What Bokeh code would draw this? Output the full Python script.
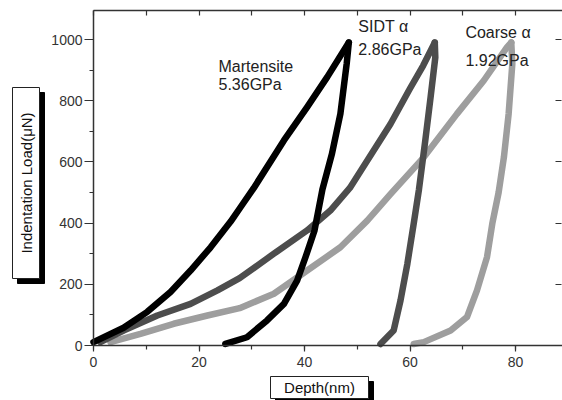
from bokeh.plotting import figure
from bokeh.models import Range1d, LinearAxis, SingleIntervalTicker, Label, CustomJSTickFormatter
from bokeh.embed import file_html
from bokeh.resources import INLINE
import math

# Martensite (5.36 GPa)
mart_load_depth = [0.0, 5.7, 10.2, 14.6, 18.4, 22.2, 26.0, 28.0, 30.4, 36.1, 40.5, 44.3, 48.4]
mart_load_force = [11, 58, 110, 175, 245, 321, 405, 455, 515, 670, 779, 877, 990]
mart_unload_depth = [48.4, 48.0, 46.8, 45.2, 43.4, 41.9, 40.2, 38.6, 36.1, 32.9, 29.1, 25.0]
mart_unload_force = [990, 921, 757, 626, 510, 376, 289, 212, 136, 82, 27, 5]

# SIDT alpha (2.86 GPa)
sidt_load_depth = [1.3, 5.7, 12.1, 18.4, 23.5, 27.7, 34.2, 40.5, 44.9, 48.6, 56.3, 60.0, 62.5, 64.7]
sidt_load_force = [11, 49, 98, 136, 180, 220, 300, 376, 441, 515, 724, 840, 915, 990]
sidt_unload_depth = [64.7, 64.8, 63.9, 62.9, 61.7, 60.7, 59.5, 58.2, 56.9, 54.4]
sidt_unload_force = [990, 942, 811, 670, 510, 398, 267, 147, 49, 5]

# Coarse alpha (1.92 GPa)
coarse_load_depth = [3.2, 8.9, 15.2, 21.6, 27.7, 34.2, 40.5, 46.8, 51.9, 56.3, 62.6, 68.9, 74.0, 78.4, 79.2]
coarse_load_force = [11, 38, 71, 98, 122, 169, 245, 321, 408, 495, 615, 757, 866, 975, 990]
coarse_unload_depth = [79.2, 79.4, 78.7, 77.8, 76.8, 75.6, 74.6, 72.7, 70.8, 67.7, 62.6, 60.7]
coarse_unload_force = [990, 921, 757, 615, 500, 398, 289, 180, 93, 49, 11, 5]

X_MAX = 88.9
Y_MAX = 1095

FONT = "Liberation Sans"
AX = "#333333"

# the frame covers the whole canvas; axes are pinned inside it
PXX = 5.275   # px per nm
PXY = 0.306   # px per uN
p = figure(width=562, height=400, output_backend="svg", toolbar_location=None,
           x_range=Range1d(-93 / PXX, (562 - 93) / PXX),
           y_range=Range1d(-(400 - 345) / PXY, 345 / PXY),
           min_border_left=0, min_border_right=0, min_border_top=0, min_border_bottom=0)
p.outline_line_color = None
p.xgrid.visible = False
p.ygrid.visible = False
p.background_fill_color = "white"

for ax in (p.xaxis[0], p.yaxis[0]):
    ax.axis_line_color = AX
    ax.axis_line_width = 1.5
    ax.major_tick_line_color = AX
    ax.minor_tick_line_color = AX
    ax.major_tick_line_width = 1.2
    ax.minor_tick_line_width = 1.2
    ax.major_tick_in = 0
    ax.minor_tick_in = 0
    ax.major_label_text_font = FONT
    ax.major_label_text_color = AX
    ax.fixed_location = 0

p.xaxis[0].bounds = (0, X_MAX)
p.xaxis[0].ticker = SingleIntervalTicker(interval=20, num_minor_ticks=2)
p.xaxis[0].major_tick_out = 6
p.xaxis[0].minor_tick_out = 4
p.xaxis[0].major_label_text_font_size = "14px"
p.xaxis[0].major_label_standoff = 5

p.yaxis[0].bounds = (0, Y_MAX)
p.yaxis[0].ticker = SingleIntervalTicker(interval=200, num_minor_ticks=2)
p.yaxis[0].major_tick_out = 9
p.yaxis[0].minor_tick_out = 4
p.yaxis[0].major_label_text_font_size = "14px"
p.yaxis[0].major_label_standoff = 2

blank = CustomJSTickFormatter(code="return ''")

top = LinearAxis(ticker=SingleIntervalTicker(interval=10, num_minor_ticks=0), formatter=blank,
                 fixed_location=Y_MAX, bounds=(0, X_MAX))
top.axis_line_color = AX
top.axis_line_width = 1.5
top.major_tick_in = 5
top.major_tick_out = 0
top.major_tick_line_color = AX
top.major_tick_line_width = 1.2
top.minor_tick_line_color = None
top.major_label_text_font_size = "1px"
top.major_label_standoff = 0
p.add_layout(top, "above")

right = LinearAxis(ticker=SingleIntervalTicker(interval=200, num_minor_ticks=0), formatter=blank,
                   fixed_location=X_MAX - 0.15, bounds=(0, Y_MAX))
right.axis_line_color = None
right.major_tick_in = 6
right.major_tick_out = 0
right.major_tick_line_color = AX
right.major_tick_line_width = 1.2
right.minor_tick_line_color = None
right.major_label_text_font_size = "1px"
right.major_label_standoff = 0
p.add_layout(right, "right")

series = [
    (coarse_load_depth, coarse_load_force, "#9e9e9e"),
    (coarse_unload_depth, coarse_unload_force, "#9e9e9e"),
    (sidt_load_depth, sidt_load_force, "#4d4d4d"),
    (sidt_unload_depth, sidt_unload_force, "#4d4d4d"),
    (mart_load_depth, mart_load_force, "#000000"),
    (mart_unload_depth, mart_unload_force, "#000000"),
]
for xs, ys, c in series:
    p.line(xs, ys, line_color=c, line_width=6.5, line_join="round", line_cap="round")

ann = [
    ("Martensite", 23.7, 912), ("5.36GPa", 23.7, 853),
    ("SIDT \u03b1", 50.2, 1042), ("2.86GPa", 50.2, 967),
    ("Coarse \u03b1", 70.5, 1023), ("1.92GPa", 70.5, 931),
]
for t, x, y in ann:
    p.add_layout(Label(x=x, y=y, text=t, text_font=FONT, text_font_size="16px",
                       text_color="#222222", text_align="left", text_baseline="middle"))

# boxed axis titles with a drop shadow
def boxed(text, sx, sy, w, h, angle):
    x = (sx - 93) / PXX
    y = (345 - sy) / PXY
    p.rect([x + 5 / PXX], [y - 5 / PXY], width=w, height=h,
           width_units="screen", height_units="screen",
           fill_color="black", line_color="black")
    p.rect([x], [y], width=w, height=h, width_units="screen", height_units="screen",
           fill_color="white", line_color="#222222", line_width=1)
    p.add_layout(Label(x=x, y=y, text=text, angle=angle, text_font=FONT,
                       text_font_size="15px", text_color="#111111",
                       text_align="center", text_baseline="middle"))

boxed("Indentation Load(\u03bcN)", 25.5, 182.5, 27, 191, math.pi / 2)
boxed("Depth(nm)", 319, 387, 98, 22, 0)

open("out.html", "w").write(file_html(p, INLINE))
